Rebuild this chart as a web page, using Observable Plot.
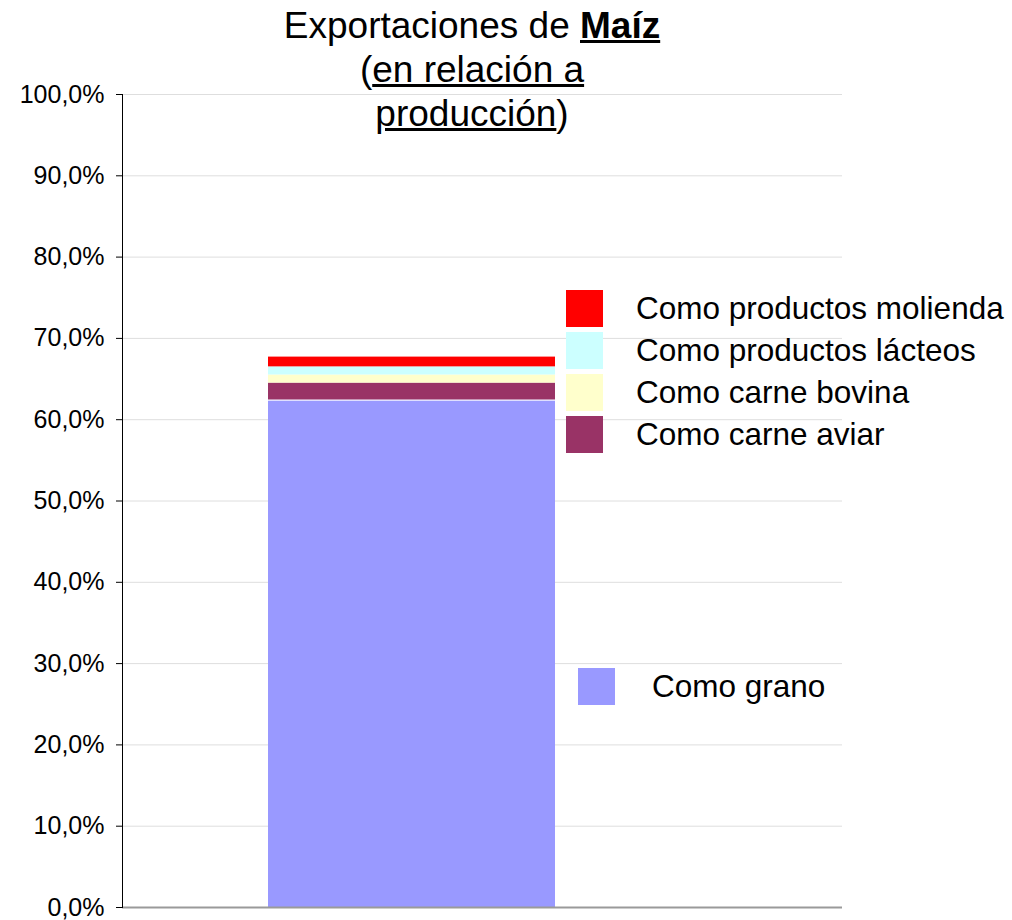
<!DOCTYPE html>
<html>
<head>
<meta charset="utf-8">
<script src="https://cdn.jsdelivr.net/npm/d3@7"></script>
<script src="https://cdn.jsdelivr.net/npm/@observablehq/plot@0.6"></script>
<style>
  body { margin: 0; background: #fff; font-family: "Liberation Sans", Arial, sans-serif; }
  #wrap { position: relative; width: 1012px; height: 920px; overflow: hidden; }
  #wrap svg { position: absolute; left: 0; top: 0; }
  #title { position: absolute; left: 222px; top: 4px; width: 500px; text-align: center;
           font-size: 37px; line-height: 44px; color: #000; }
  .leg { position: absolute; font-size: 31.5px; color: #000; }
  .leg .item { position: relative; height: 42px; }
  .leg .sw { position: absolute; left: 0; top: 0; width: 37px; height: 37px; }
  .leg .lb { position: absolute; top: 0; line-height: 37px; white-space: nowrap; }
</style>
</head>
<body>
<div id="wrap"></div>
<script>
// ---- data ----
const category = ["Maíz"];
const series = ["Como grano", "Como carne aviar", "Como carne bovina", "Como productos lácteos", "Como productos molienda"];
const values = [62.4, 2.1, 1.0, 1.0, 1.2];
const colors = ["#9999FF", "#993366", "#FFFFCC", "#CCFFFF", "#FF0000"];
const yTicks = [0, 10, 20, 30, 40, 50, 60, 70, 80, 90, 100];
const titleLines = ["Exportaciones de ", "Maíz", "en relación a", "producción"];

const data = series.map((s, i) => ({cat: category[0], series: s, value: values[i]}));
const fmt = d => d.toFixed(1).replace(".", ",") + "%";

const chart = Plot.plot({
  width: 1012,
  height: 920,
  marginLeft: 122,
  marginRight: 170,
  marginTop: 94,
  marginBottom: 13,
  style: {fontFamily: '"Liberation Sans", Arial, sans-serif', fontSize: "25px", color: "#000", background: "transparent"},
  x: {domain: category, padding: 0.4286, align: 0.338, axis: null},
  y: {domain: [0, 100], ticks: yTicks, tickFormat: fmt, label: null},
  color: {domain: series, range: colors},
  marks: [
    Plot.ruleY(yTicks.slice(1), {stroke: "#dedede", strokeWidth: 1}),
    Plot.barY(data, {x: "cat", y: "value", fill: "series"}),
    Plot.tickY(data.slice(0, 1), {x: "cat", y: "value", stroke: "white", strokeWidth: 1}),
    Plot.ruleY([0], {stroke: "#9a9a9a", strokeWidth: 2}),
    Plot.axisY({ticks: yTicks, tickSize: 6, tickPadding: 12, fontSize: 25, tickFormat: fmt, stroke: "#000", label: null}),
    Plot.frame({anchor: "left", stroke: "#000"})
  ]
});

const wrap = document.getElementById("wrap");
wrap.appendChild(chart);

// ---- title ----
const title = document.createElement("div");
title.id = "title";
title.innerHTML = `${titleLines[0]}<b><u>${titleLines[1]}</u></b><br>(<u>${titleLines[2]}</u><br><u>${titleLines[3]}</u>)`;
wrap.appendChild(title);

// ---- legend ----
function legendBlock(idxs, left, top, textOffset) {
  const box = document.createElement("div");
  box.className = "leg";
  box.style.left = left + "px";
  box.style.top = top + "px";
  idxs.forEach(i => {
    const it = document.createElement("div");
    it.className = "item";
    const sw = document.createElement("div");
    sw.className = "sw";
    sw.style.background = colors[i];
    const lb = document.createElement("div");
    lb.className = "lb";
    lb.style.left = textOffset + "px";
    lb.textContent = series[i];
    it.appendChild(sw);
    it.appendChild(lb);
    box.appendChild(it);
  });
  wrap.appendChild(box);
}
legendBlock([4, 3, 2, 1], 566, 290, 70);
legendBlock([0], 578, 668, 74);
</script>
</body>
</html>
